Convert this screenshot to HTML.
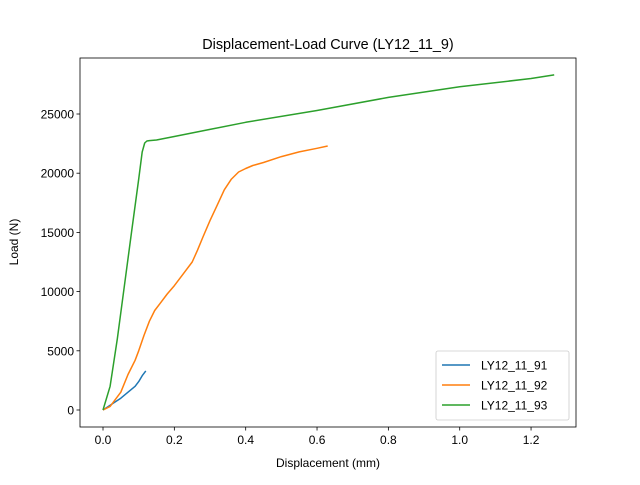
<!DOCTYPE html>
<html><head><meta charset="utf-8"><style>body{margin:0;background:#fff}svg{font-family:"Liberation Sans","DejaVu Sans",sans-serif}</style></head>
<body>
<svg id="c" width="640" height="480"></svg>
<script>
const xTicks=[0.0,0.2,0.4,0.6,0.8,1.0,1.2];
const xTickLabels=["0.0","0.2","0.4","0.6","0.8","1.0","1.2"];
const yTicks=[0,5000,10000,15000,20000,25000];
const seriesNames=["LY12_11_91","LY12_11_92","LY12_11_93"];
const seriesColors=["#1f77b4","#ff7f0e","#2ca02c"];
const blueX=[0,0.01,0.03,0.05,0.07,0.09,0.1,0.11,0.12];
const blueY=[0,200,600,1000,1500,2000,2400,2900,3300];
const orangeX=[0,0.02,0.05,0.07,0.09,0.1,0.115,0.13,0.145,0.16,0.18,0.2,0.225,0.25,0.265,0.28,0.3,0.32,0.34,0.36,0.38,0.4,0.42,0.45,0.5,0.55,0.6,0.63];
const orangeY=[0,300,1500,3000,4200,5000,6300,7500,8400,9000,9800,10500,11500,12500,13500,14600,16000,17300,18600,19500,20100,20400,20650,20900,21400,21800,22100,22300];
const greenX=[0,0.02,0.04,0.06,0.08,0.1,0.11,0.117,0.123,0.13,0.15,0.2,0.3,0.4,0.6,0.8,1.0,1.2,1.265];
const greenY=[0,2000,6000,10500,15000,19500,21800,22550,22720,22750,22800,23100,23700,24300,25300,26400,27300,28000,28300];
const L=80,R=576,T=58,B=427,xmin=-0.0645,xmax=1.326,ymin=-1436,ymax=29730;
const sx=v=>L+(v-xmin)/(xmax-xmin)*(R-L);
const sy=v=>B-(v-ymin)/(ymax-ymin)*(B-T);
const svg=document.getElementById('c');const NS='http://www.w3.org/2000/svg';
function mk(t,a,txt){const e=document.createElementNS(NS,t);for(const k in a)e.setAttribute(k,a[k]);if(txt!==undefined)e.textContent=txt;svg.appendChild(e);return e;}
let e;
e=mk('text',{x:328,y:49,'font-size':14.4,'text-anchor':'middle'},'Displacement-Load Curve (LY12_11_9)');


xTicks.forEach((v,i)=>{const x=sx(v);
e=mk('line',{x1:x,x2:x,y1:B,y2:B+3.5,stroke:'#000','stroke-width':0.8});


e=mk('text',{x:x,y:B+17,'font-size':12,'text-anchor':'middle'},xTickLabels[i]);

});
yTicks.forEach(v=>{const y=sy(v);
e=mk('line',{x1:L-3.5,x2:L,y1:y,y2:y,stroke:'#000','stroke-width':0.8});


e=mk('text',{x:L-6,y:y+4.5,'font-size':12,'text-anchor':'end'},String(v));

});
e=mk('text',{x:328,y:467,'font-size':12,'text-anchor':'middle'},'Displacement (mm)');


e=mk('text',{x:18,y:242,'font-size':12,'text-anchor':'middle',transform:'rotate(-90 18 242)'},'Load (N)');


const data=[[blueX,blueY],[orangeX,orangeY],[greenX,greenY]];
data.forEach((d,i)=>{const pts=d[0].map((x,j)=>sx(x).toFixed(1)+','+sy(d[1][j]).toFixed(1)).join(' ');
e=mk('polyline',{points:pts,fill:'none',stroke:seriesColors[i],'stroke-width':1.5,'stroke-linejoin':'round'});

});
e=mk('rect',{x:L,y:T,width:R-L,height:B-T,fill:'none',stroke:'#000','stroke-width':0.8});


e=mk('rect',{x:436,y:351,width:133,height:69,rx:2,fill:'#fff','fill-opacity':0.8,stroke:'#ccc','stroke-width':0.8});


seriesNames.forEach((n,i)=>{const y=365+i*20;
e=mk('line',{x1:442,x2:470,y1:y,y2:y,stroke:seriesColors[i],'stroke-width':1.5});


e=mk('text',{x:481,y:y+4.5,'font-size':12},n);

});
</script>
</body></html>
